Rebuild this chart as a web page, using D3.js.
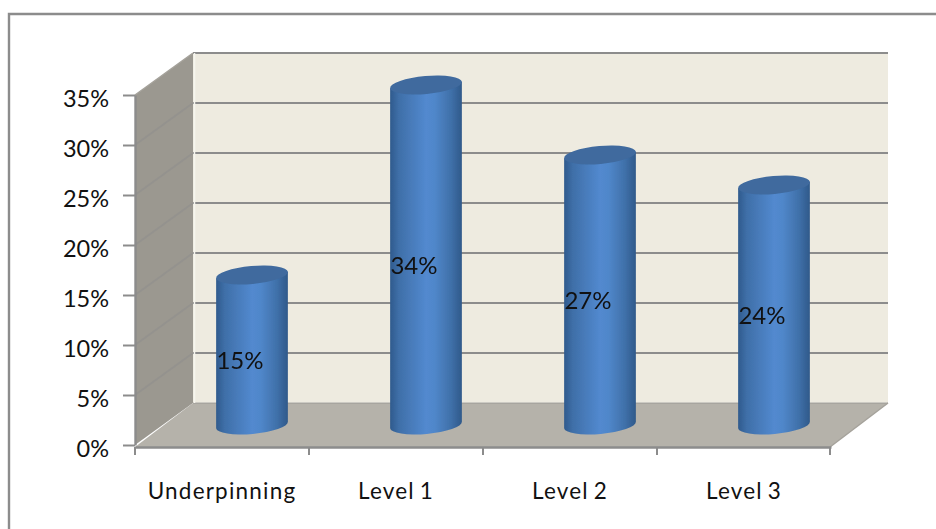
<!DOCTYPE html>
<html><head><meta charset="utf-8">
<script src="https://cdnjs.cloudflare.com/ajax/libs/d3/7.8.5/d3.min.js"></script>
<style>html,body{margin:0;padding:0;background:#fff}svg{display:block}text{font-family:Lato,"Open Sans",sans-serif;fill:#111}</style>
</head><body><svg id="c" width="936" height="529"></svg>
<script>
const categories = ["Underpinning","Level 1","Level 2","Level 3"];
const values = [15,34,27,24];
const yTicks = [0,5,10,15,20,25,30,35];

const svg = d3.select("#c");
const x = d3.scaleBand().domain(categories).range([135,831]);
const y = d3.scaleLinear().domain([0,35]).range([445,95]);
const dx = 58, dy = -42;          // depth of the 3D box
const barDx = 30, barDy = -20;    // cylinder sits mid-depth
const rx = 36, ry = 9, tilt = -5;
const lineC = "#8c8c8c";

const defs = svg.append("defs");
const g = defs.append("linearGradient").attr("id","cyl");
[[0,"#2f5a8d"],[0.12,"#3f6fa8"],[0.5,"#5289cf"],[0.62,"#5087ca"],[0.85,"#3f70a9"],[1,"#30598a"]]
  .forEach(d=>g.append("stop").attr("offset",d[0]).attr("stop-color",d[1]));
defs.append("filter").attr("id","soft").append("feGaussianBlur").attr("stdDeviation",0.5);

// frame
svg.append("path").attr("d","M9,529V14H936").attr("fill","none").attr("stroke",lineC).attr("stroke-width",2.4);

const x0 = x.range()[0], x1 = x.range()[1], yb = y(0), yt = y(35);
const box = svg.append("g").attr("filter","url(#soft)");
// back wall
box.append("rect").attr("x",x0+dx).attr("y",yt+dy).attr("width",x1-x0-1).attr("height",yb-yt).attr("fill","#eeebe0");
// side wall
box.append("path").attr("d",`M${x0},${yb}L${x0},${yt}L${x0+dx},${yt+dy}L${x0+dx},${yb+dy}Z`).attr("fill","#9b9890");
// floor
box.append("path").attr("d",`M${x0},${yb+2}L${x0+dx},${yb+dy}L${x1+dx-1},${yb+dy}L${x1-1},${yb+2}Z`).attr("fill","#b5b2aa");
// gridlines
const gl = box.append("g").attr("stroke",lineC).attr("stroke-width",2).attr("fill","none");
yTicks.forEach(v=>{
  gl.append("line").attr("x1",x0+dx).attr("x2",x1+dx-1).attr("y1",y(v)+dy).attr("y2",y(v)+dy)
    .attr("stroke-opacity",v===0?0.35:1);
  if(v>0 && v<35) gl.append("line").attr("x1",x0).attr("x2",x0+dx).attr("y1",y(v)).attr("y2",y(v)+dy).attr("stroke-opacity",0.45);
});
box.append("line").attr("x1",x0+dx).attr("x2",x0+dx).attr("y1",yt+dy).attr("y2",yb+dy).attr("stroke","#f6f5ee").attr("stroke-width",1.5).attr("transform","translate(1.5,0)");
box.append("line").attr("x1",x0).attr("x2",x0+dx).attr("y1",yt).attr("y2",yt+dy).attr("stroke","#a5a29b").attr("stroke-width",1.5);
box.append("line").attr("x1",x1-1).attr("x2",x1+dx-1).attr("y1",yb+2).attr("y2",yb+dy).attr("stroke","#a5a29b").attr("stroke-width",1.5);

// axes
const yAxis = svg.append("g").attr("transform",`translate(${x0},0)`)
  .call(d3.axisLeft(y).tickValues(yTicks).tickFormat(d=>d+"%").tickSize(12).tickSizeOuter(0).tickPadding(14));
yAxis.select(".domain").attr("stroke",lineC).attr("stroke-width",2.4);
yAxis.selectAll(".tick line").attr("stroke",lineC).attr("stroke-width",2);
yAxis.selectAll("text").attr("font-size",23.5).attr("dy","0.47em").style("font-family","Lato").attr("fill","#111");

const xAxis = svg.append("g").attr("transform",`translate(0,${yb+2})`)
  .call(d3.axisBottom(x).tickSize(0).tickSizeOuter(0).tickPadding(36));
xAxis.select(".domain").attr("stroke",lineC).attr("stroke-width",2.4);
xAxis.selectAll("text").attr("font-size",22.5).style("font-family","Lato").style("letter-spacing","1.2px").style("word-spacing","-2px").attr("fill","#111").attr("dy","0.71em");
const edges = categories.map(c=>x(c)).concat([x1-1]);
xAxis.selectAll(".edge").data(edges).enter().append("line").attr("class","edge")
  .attr("x1",d=>d).attr("x2",d=>d).attr("y1",0).attr("y2",8).attr("stroke",lineC).attr("stroke-width",2);

// cylinders
const bars = svg.append("g").attr("filter","url(#soft)");
const yBase = v => y(v)+barDy;
const cy0 = yBase(0);
const a = tilt*Math.PI/180, ex = rx*Math.cos(a), ey = rx*Math.sin(a);
values.forEach((v,i)=>{
  const cx = x(categories[i]) + x.bandwidth()/2 + barDx;
  const topY = yBase(v);
  const G = bars.append("g");
  G.append("path").attr("d",
    `M${cx-ex},${topY-ey}L${cx-ex},${cy0-ey}A${rx},${ry} ${tilt} 0 0 ${cx+ex},${cy0+ey}L${cx+ex},${topY+ey}Z`)
    .attr("fill","url(#cyl)");
  G.append("ellipse").attr("cx",cx).attr("cy",topY).attr("rx",rx).attr("ry",ry)
    .attr("transform",`rotate(${tilt},${cx},${topY})`).attr("fill","#3f6a9e");
});

// data labels
svg.append("g").selectAll("text").data(values).enter().append("text")
  .attr("x",(d,i)=>x(categories[i])+x.bandwidth()/2+barDx-12)
  .attr("y",d=>(yBase(d)+cy0)/2+11)
  .attr("dy","0.35em").attr("text-anchor","middle").attr("font-size",24).text(d=>d+"%");
</script></body></html>
